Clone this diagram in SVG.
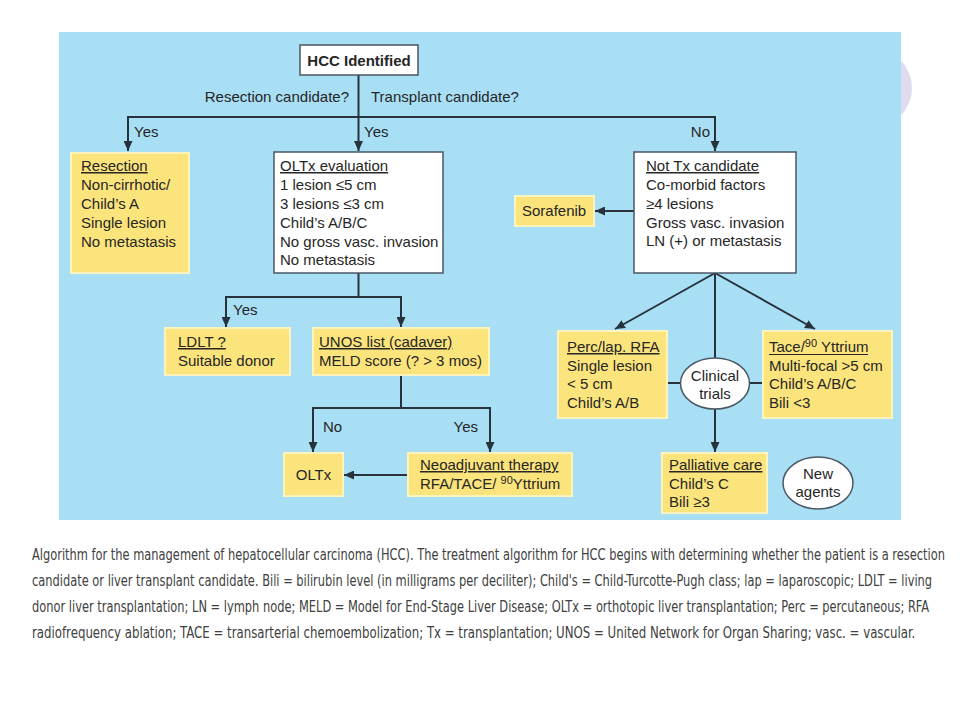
<svg xmlns="http://www.w3.org/2000/svg" width="960" height="720" viewBox="0 0 960 720">
<defs>
<marker id="ah" markerUnits="userSpaceOnUse" markerWidth="10" markerHeight="9" refX="10" refY="4.5" orient="auto">
<path d="M0,0 L10,4.5 L0,9 z" fill="#26323c"/>
</marker>
</defs>
<style>
.t{font-family:"Liberation Sans",Arial,sans-serif;font-size:15px;fill:#262626}
.b{font-weight:bold}
.u{text-decoration:underline}
.wb{fill:#ffffff;stroke:#4a5764;stroke-width:1.5}
.yb{fill:#fbe47c;stroke:#fdf3bd;stroke-width:2}
.el{fill:#ffffff;stroke:#4a5764;stroke-width:1.5}
.ln{fill:none;stroke:#26323c;stroke-width:2}
.ul{stroke:#262626;stroke-width:1}
.cap{font-family:"DejaVu Sans Condensed","DejaVu Sans",Verdana,sans-serif;font-size:15.5px;fill:#404040}
</style>
<rect x="0" y="0" width="960" height="720" fill="#ffffff"/>
<circle cx="872" cy="88" r="40" fill="#dedcef"/>
<rect x="59" y="32" width="842" height="488" fill="#a9dff5"/>

<g id="connectors">
<path class="ln" d="M358.5,75 V151" marker-end="url(#ah)"/>
<path class="ln" d="M358.5,117 H128 V151" marker-end="url(#ah)"/>
<path class="ln" d="M358.5,117 H715 V151" marker-end="url(#ah)"/>
<path class="ln" d="M634,211 H595" marker-end="url(#ah)"/>
<path class="ln" d="M358.5,273 V297 H226 V327" marker-end="url(#ah)"/>
<path class="ln" d="M358.5,297 H401 V327" marker-end="url(#ah)"/>
<path class="ln" d="M401,375 V408 H313 V452" marker-end="url(#ah)"/>
<path class="ln" d="M401,408 H490 V452" marker-end="url(#ah)"/>
<path class="ln" d="M408,475 H344" marker-end="url(#ah)"/>
<path class="ln" d="M715,273 L615,329" marker-end="url(#ah)"/>
<path class="ln" d="M715,273 L815,329" marker-end="url(#ah)"/>
<path class="ln" d="M715,273 V358"/>
<path class="ln" d="M667,383 H681"/>
<path class="ln" d="M749,383 H763"/>
<path class="ln" d="M715,409 V452" marker-end="url(#ah)"/>
<text class="t" x="349" y="102" text-anchor="end">Resection candidate?</text>
<text class="t" x="371" y="102">Transplant candidate?</text>
<text class="t" x="134" y="137">Yes</text>
<text class="t" x="364" y="137">Yes</text>
<text class="t" x="710" y="137" text-anchor="end">No</text>
<text class="t" x="233" y="315">Yes</text>
<text class="t" x="323" y="432">No</text>
<text class="t" x="478" y="432" text-anchor="end">Yes</text>
</g>

<g id="hcc">
<rect class="wb" x="300" y="45" width="118" height="30"/>
<text class="t b" x="359" y="66" text-anchor="middle">HCC Identified</text>
</g>

<g id="resection">
<rect class="yb" x="71" y="153" width="118" height="120"/>
<text class="t" x="81" y="171"><tspan class="u">Resection</tspan><tspan x="81" y="190">Non-cirrhotic/</tspan><tspan x="81" y="209">Child’s A</tspan><tspan x="81" y="228">Single lesion</tspan><tspan x="81" y="247">No metastasis</tspan></text>
</g>

<g id="oltx-eval">
<rect class="wb" x="274" y="152" width="169" height="121"/>
<text class="t" x="280" y="171"><tspan class="u">OLTx evaluation</tspan><tspan x="280" y="190">1 lesion ≤5 cm</tspan><tspan x="280" y="209">3 lesions ≤3 cm</tspan><tspan x="280" y="228">Child’s A/B/C</tspan><tspan x="280" y="247">No gross vasc. invasion</tspan><tspan x="280" y="265">No metastasis</tspan></text>
</g>

<g id="not-tx">
<rect class="wb" x="634" y="152" width="162" height="121"/>
<text class="t" x="646" y="171"><tspan class="u">Not Tx candidate</tspan><tspan x="646" y="190">Co-morbid factors</tspan><tspan x="646" y="209">≥4 lesions</tspan><tspan x="646" y="228">Gross vasc. invasion</tspan><tspan x="646" y="246">LN (+) or metastasis</tspan></text>
</g>

<g id="sorafenib">
<rect class="yb" x="515" y="196" width="79" height="30"/>
<text class="t" x="522" y="216">Sorafenib</text>
</g>

<g id="ldlt">
<rect class="yb" x="165" y="328" width="125" height="47"/>
<text class="t" x="178" y="347"><tspan class="u">LDLT ?</tspan><tspan x="178" y="366">Suitable donor</tspan></text>
</g>

<g id="unos">
<rect class="yb" x="313" y="328" width="176" height="47"/>
<text class="t" x="319" y="347"><tspan class="u">UNOS list (cadaver)</tspan><tspan x="319" y="366">MELD score (? &gt; 3 mos)</tspan></text>
</g>

<g id="oltx">
<rect class="yb" x="284" y="453" width="59" height="43"/>
<text class="t" x="313.5" y="480" text-anchor="middle">OLTx</text>
</g>

<g id="neoadjuvant">
<rect class="yb" x="408" y="453" width="164" height="43"/>
<text class="t" x="420" y="470"><tspan class="u">Neoadjuvant therapy</tspan><tspan x="420" y="489">RFA/TACE/ </tspan><tspan font-size="11" dy="-5">90</tspan><tspan dy="5">Yttrium</tspan></text>
</g>

<g id="perc-rfa">
<rect class="yb" x="558" y="331" width="109" height="87"/>
<text class="t" x="567" y="352"><tspan class="u">Perc/lap. RFA</tspan><tspan x="567" y="370.5">Single lesion</tspan><tspan x="567" y="389">&lt; 5 cm</tspan><tspan x="567" y="407.5">Child’s A/B</tspan></text>
</g>

<g id="clinical-trials">
<ellipse class="el" cx="715" cy="383.5" rx="34.5" ry="25.5"/>
<text class="t" x="715" y="381" text-anchor="middle">Clinical<tspan x="715" y="399">trials</tspan></text>
</g>

<g id="tace">
<rect class="yb" x="763" y="331" width="129" height="87"/>
<text class="t" x="769" y="352">Tace/<tspan font-size="11" dy="-5">90</tspan><tspan dy="5"> Yttrium</tspan></text>
<line class="ul" x1="769" y1="354.5" x2="868" y2="354.5"/>
<text class="t" x="769" y="370.5">Multi-focal &gt;5 cm<tspan x="769" y="389">Child’s A/B/C</tspan><tspan x="769" y="407.5">Bili &lt;3</tspan></text>
</g>

<g id="palliative">
<rect class="yb" x="662" y="453" width="105" height="60"/>
<text class="t" x="669" y="470"><tspan class="u">Palliative care</tspan><tspan x="669" y="488.5">Child’s C</tspan><tspan x="669" y="507">Bili ≥3</tspan></text>
</g>

<g id="new-agents">
<ellipse class="el" cx="818" cy="483" rx="35" ry="26"/>
<text class="t" x="818" y="479" text-anchor="middle">New<tspan x="818" y="497">agents</tspan></text>
</g>

<g id="caption">
<text class="cap" transform="translate(32,560) scale(0.82,1)" x="0" y="0">Algorithm for the management of hepatocellular carcinoma (HCC). The treatment algorithm for HCC begins with determining whether the patient is a resection</text>
<text class="cap" transform="translate(32,586) scale(0.82,1)" x="0" y="0">candidate or liver transplant candidate. Bili = bilirubin level (in milligrams per deciliter); Child's = Child-Turcotte-Pugh class; lap = laparoscopic; LDLT = living</text>
<text class="cap" transform="translate(32,612) scale(0.82,1)" x="0" y="0">donor liver transplantation; LN = lymph node; MELD = Model for End-Stage Liver Disease; OLTx = orthotopic liver transplantation; Perc = percutaneous; RFA</text>
<text class="cap" transform="translate(32,638) scale(0.845,1)" x="0" y="0">radiofrequency ablation; TACE = transarterial chemoembolization; Tx = transplantation; UNOS = United Network for Organ Sharing; vasc. = vascular.</text>
</g>
</svg>
